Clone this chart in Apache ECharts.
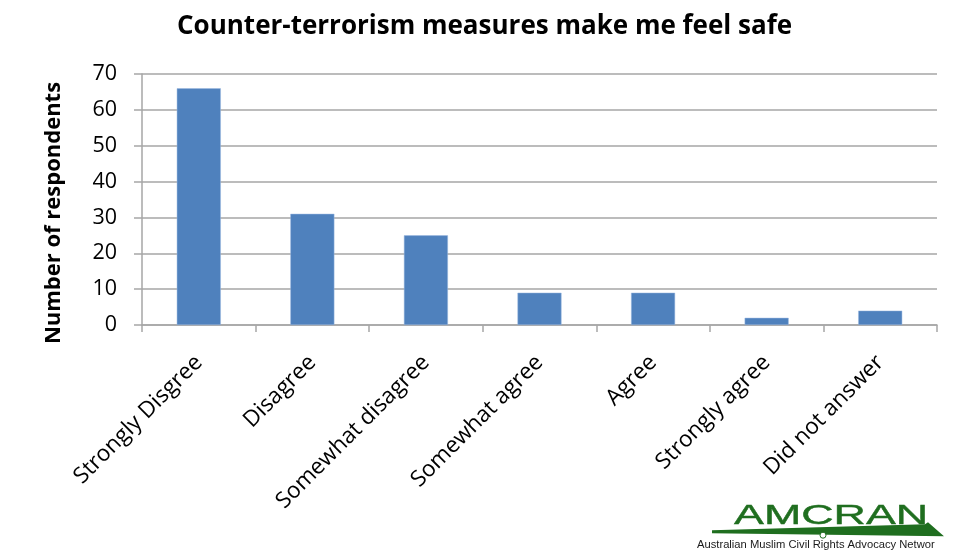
<!DOCTYPE html>
<html>
<head>
<meta charset="utf-8">
<script src="https://cdn.jsdelivr.net/npm/echarts@6/dist/echarts.min.js"></script>
<style>
  html, body { margin: 0; padding: 0; background: #fff; }
  #chart { width: 957px; height: 550px; }
</style>
</head>
<body>
<div id="chart"></div>
<script>
// Survey responses
const categories = ['Strongly Disgree', 'Disagree', 'Somewhat disagree', 'Somewhat agree', 'Agree', 'Strongly agree', 'Did not answer'];
const respondents = [66, 31, 25, 9, 9, 2, 4];
const yTicks = [0, 10, 20, 30, 40, 50, 60, 70];

const FONT = '"Open Sans", "Noto Sans", sans-serif';
const LOGO_FONT = '"Liberation Sans", Arial, sans-serif';
const GREEN = '#1f6e1f';
const chart = echarts.init(document.getElementById('chart'));

chart.setOption({
  animation: false,
  backgroundColor: '#ffffff',
  title: {
    text: 'Counter-terrorism measures make me feel safe',
    left: 172,
    top: 9,
    textStyle: { fontFamily: FONT, fontWeight: 'bold', fontSize: 26, color: '#000' }
  },
  grid: { left: 142, right: 20, top: 74, bottom: 225, containLabel: false },
  xAxis: {
    type: 'category',
    data: categories,
    axisLine: { lineStyle: { color: '#a6a6a6', width: 1.5 } },
    axisTick: { show: true, length: 7, alignWithLabel: false, lineStyle: { color: '#a6a6a6', width: 1.5 } },
    axisLabel: {
      rotate: 45,
      interval: 0,
      margin: 34,
      fontFamily: FONT,
      fontSize: 22.5,
      color: '#000'
    }
  },
  yAxis: {
    type: 'value',
    min: yTicks[0],
    max: yTicks[yTicks.length - 1],
    interval: 10,
    name: 'Number of respondents',
    nameLocation: 'middle',
    nameGap: 77,
    nameTextStyle: { fontFamily: FONT, fontWeight: 'bold', fontSize: 22, color: '#000', padding: [0, 27, 0, 0] },
    axisLine: { show: true, lineStyle: { color: '#a6a6a6', width: 1.5 } },
    axisTick: { show: true, length: 8, lineStyle: { color: '#a6a6a6', width: 1.5 } },
    splitLine: { lineStyle: { color: '#a6a6a6', width: 1.5 } },
    axisLabel: { fontFamily: FONT, fontSize: 21.5, color: '#000', margin: 25 }
  },
  series: [{
    type: 'bar',
    data: respondents,
    barWidth: 44,
    itemStyle: { color: '#4f81bd', borderColor: '#9cb8e0', borderWidth: 0.5 }
  }],
  graphic: [
    {
      type: 'group',
      left: 697,
      top: 502,
      children: [
        {
          type: 'text',
          x: 40,
          y: 0,
          scaleX: 1.6,
          style: {
            text: 'AMCRAN',
            fontFamily: LOGO_FONT,
            fontSize: 28,
            fill: GREEN,
            stroke: GREEN,
            lineWidth: 0.4
          }
        },
        {
          type: 'polygon',
          shape: { points: [[18, 28], [231, 22], [234, 20], [250, 34], [18, 31]] },
          style: { fill: GREEN }
        },
        {
          type: 'circle',
          shape: { cx: 129, cy: 33, r: 3 },
          style: { fill: '#fff', stroke: GREEN, lineWidth: 1 }
        },
        {
          type: 'text',
          x: 3,
          y: 38,
          scaleX: 1.12,
          style: {
            text: 'Australian Muslim Civil Rights Advocacy Networ',
            fontFamily: LOGO_FONT,
            fontSize: 10,
            fill: '#1a1a1a'
          }
        }
      ]
    }
  ]
});
</script>
</body>
</html>
